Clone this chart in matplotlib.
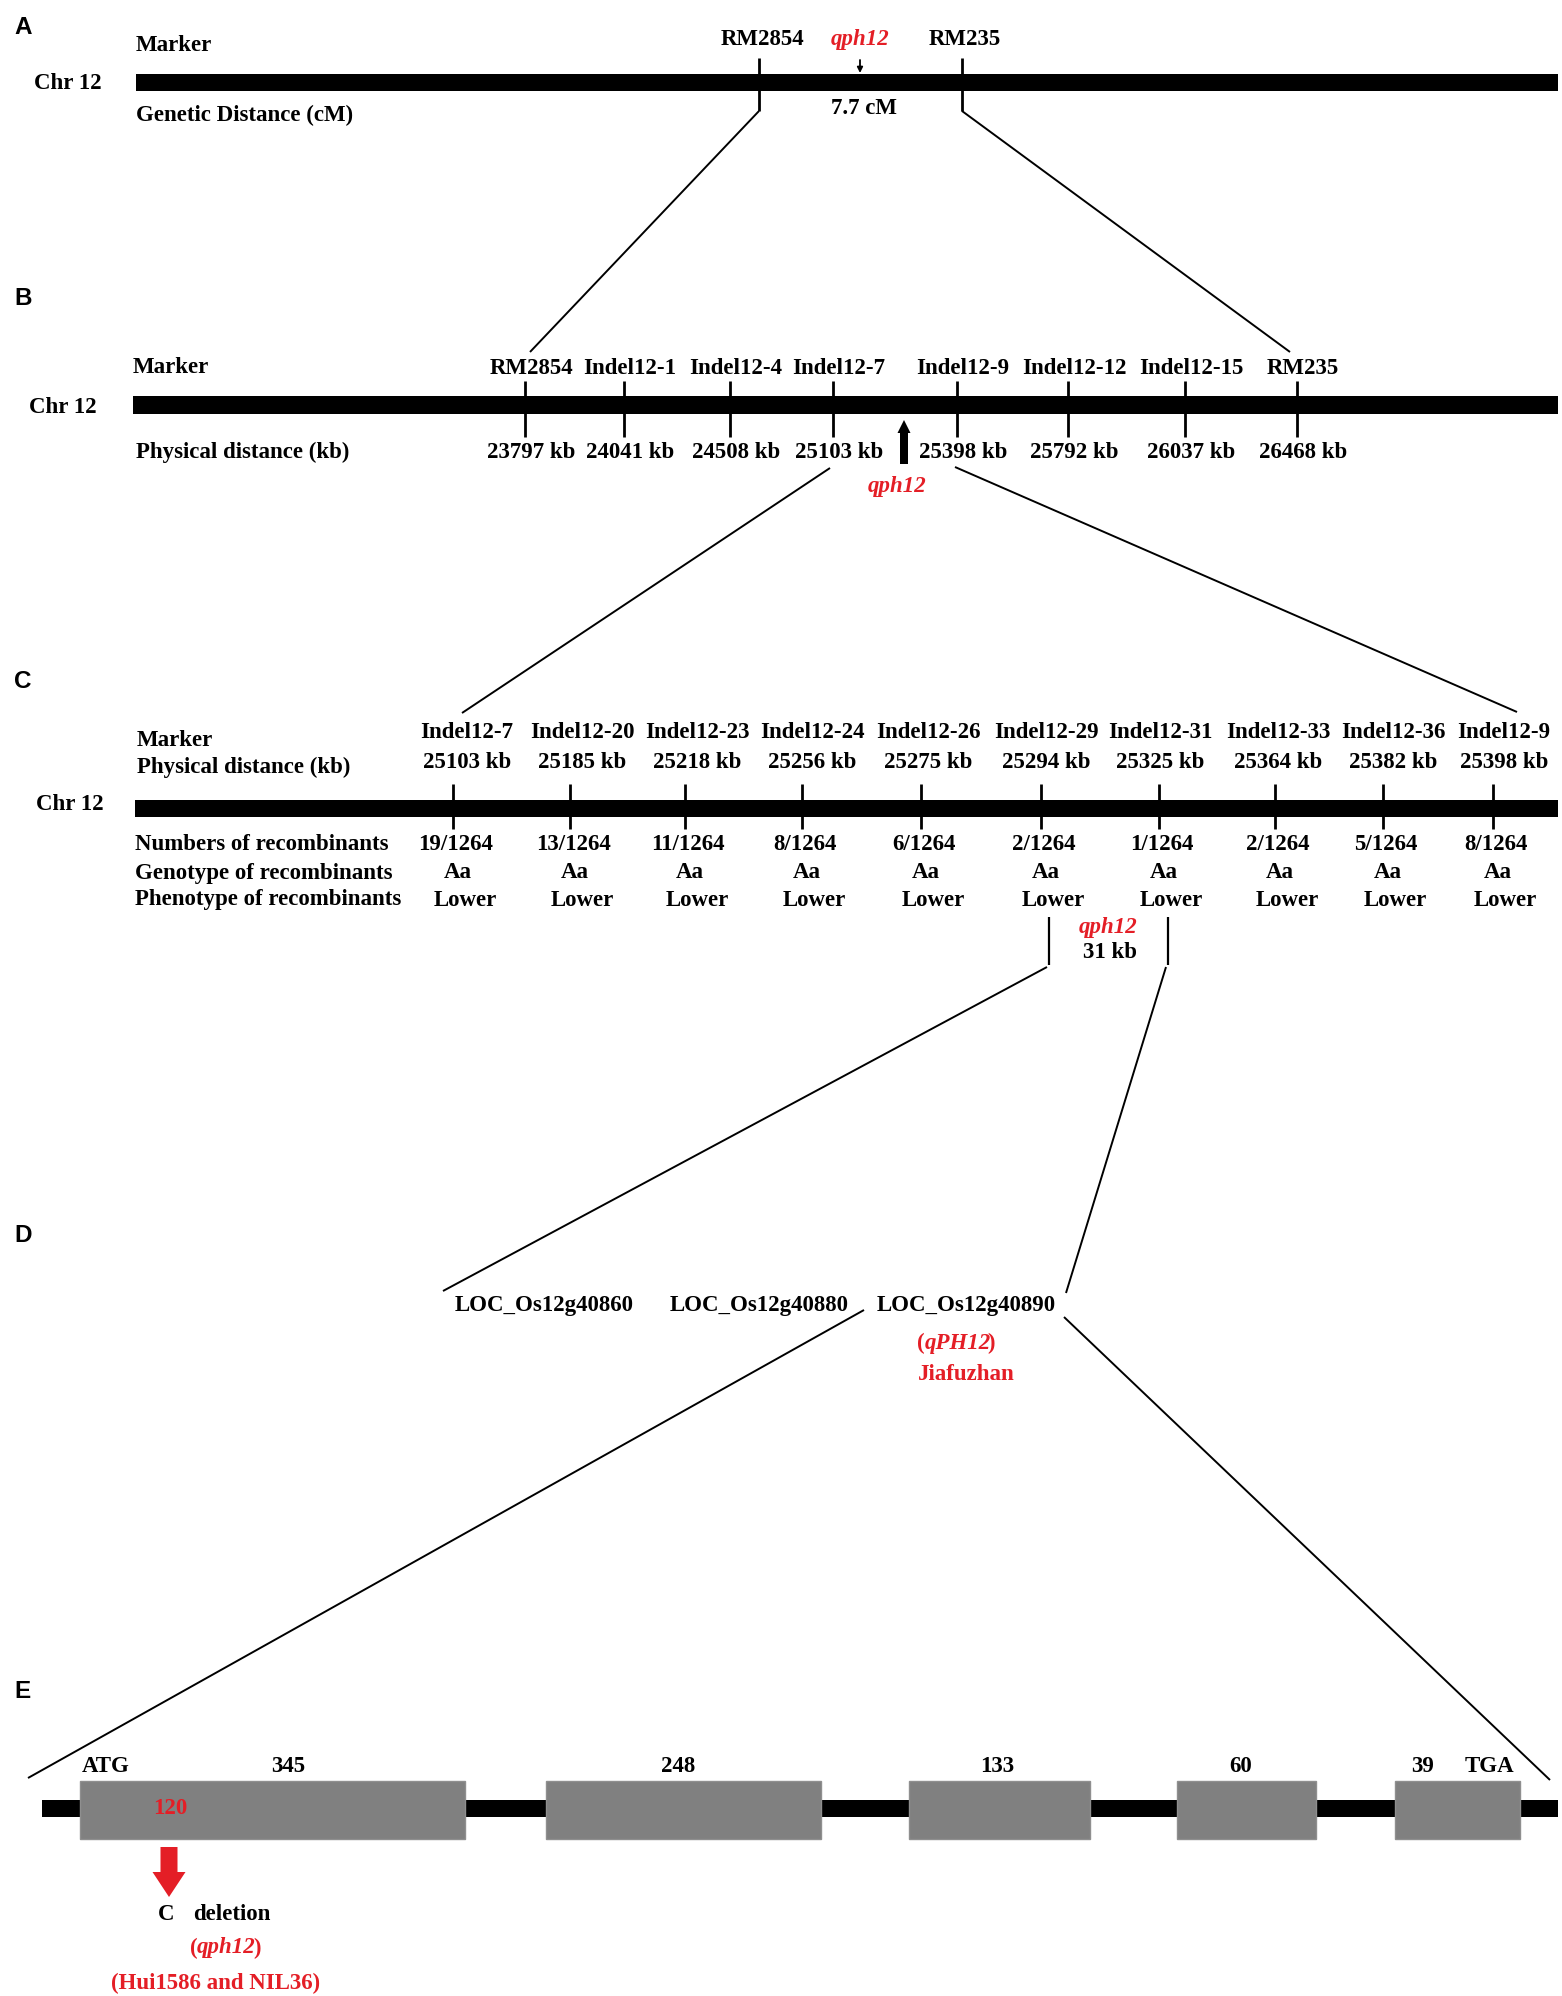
import matplotlib
matplotlib.use("Agg")
import matplotlib.pyplot as plt
from matplotlib.patches import FancyArrow

plt.rcParams['font.family'] = ['Liberation Serif', 'DejaVu Serif']

# ---------------- data ----------------
panel_letters = ['A', 'B', 'C', 'D', 'E']
chrom_name = 'Chr 12'
a_markers = ['RM2854', 'RM235']
a_qtl = 'qph12'
a_distance = '7.7 cM'

b_markers = ['RM2854', 'Indel12-1', 'Indel12-4', 'Indel12-7', 'Indel12-9',
             'Indel12-12', 'Indel12-15', 'RM235']
b_kb = [23797, 24041, 24508, 25103, 25398, 25792, 26037, 26468]

c_markers = ['Indel12-7', 'Indel12-20', 'Indel12-23', 'Indel12-24', 'Indel12-26',
             'Indel12-29', 'Indel12-31', 'Indel12-33', 'Indel12-36', 'Indel12-9']
c_kb = [25103, 25185, 25218, 25256, 25275, 25294, 25325, 25364, 25382, 25398]
c_recombinants = [19, 13, 11, 8, 6, 2, 1, 2, 5, 8]
c_total = 1264
c_genotype = ['Aa'] * 10
c_phenotype = ['Lower'] * 10
c_interval = '31 kb'

d_genes = ['LOC_Os12g40860', 'LOC_Os12g40880', 'LOC_Os12g40890']
d_candidate = 'qPH12'
d_variety = 'Jiafuzhan'

e_exon_lengths = [345, 248, 133, 60, 39]
e_mutation_pos = 120
e_mut_lines = ['(Hui1586 and NIL36)']

# ---------------- layout (pixels) ----------------
W, H = 1562, 1996
RED = '#E41E26'
FS = 16.5

a_tick_x = [759, 962]
b_tick_x = [525, 624, 730, 833, 957, 1068, 1185, 1297]
c_tick_x = [453, 570, 685, 802, 921, 1041, 1159, 1275, 1383, 1493]
c_label_dx = [14, 12, 12, 10, 7, 5, 1, 3, 10, 11]
exon_left = [80, 546, 909, 1177, 1395]
exon_right = [465, 821, 1090, 1316, 1520]
exon_label_x = [288, 678, 997, 1241, 1423]

fig = plt.figure(figsize=(W / 100, H / 100), dpi=100)
ax = fig.add_axes([0, 0, 1, 1])
ax.set_xlim(0, W)
ax.set_ylim(H, 0)
ax.axis('off')
renderer = fig.canvas.get_renderer()

def txt(x, y, s, color='black', ha='center', weight='bold', style='normal', size=FS):
    return ax.text(x, y, s, ha=ha, va='center', color=color, fontsize=size,
                   fontweight=weight, fontstyle=style)

def seg_txt(xc, y, segments, color):
    """Draw consecutive segments (text, style, kern) centred on xc."""
    objs = []
    widths = []
    for s, st, kern in segments:
        t = txt(0, y, s, color=color, ha='left', style=st)
        w = t.get_window_extent(renderer=renderer).width + kern
        objs.append(t)
        widths.append(w)
    x = xc - sum(widths) / 2
    for t, w in zip(objs, widths):
        t.set_x(x)
        x += w

def chrom_bar(x0, x1, yc, h=17):
    ax.barh([yc], [x1 - x0], left=[x0], height=h, color='black', edgecolor='none')

def line(xs, ys, lw=1.4):
    ax.plot(xs, ys, color='black', lw=lw, solid_capstyle='butt')

# panel letters
for letter, y in zip(panel_letters, [27, 298, 682, 1235, 1692]):
    ax.text(14, y, letter, ha='left', va='center', fontsize=17.5,
            fontweight='bold', family='Liberation Sans')

# ---------------- Panel A ----------------
txt(136, 45, 'Marker', ha='left')
txt(68, 83, chrom_name)
txt(136, 115, 'Genetic Distance (cM)', ha='left')
chrom_bar(136, 1558, 82.5)
for x, m in zip(a_tick_x, a_markers):
    txt(x + 3, 39, m)
    line([x, x], [58, 111], lw=2)
txt(860, 39, a_qtl, color=RED, style='italic')
ax.annotate('', xy=(860, 73), xytext=(860, 60),
            arrowprops=dict(arrowstyle='-|>', color='black', lw=1.3,
                            mutation_scale=8, shrinkA=0, shrinkB=0))
txt(864, 108, a_distance)
line([759, 530], [111, 352])
line([962, 1290], [111, 352])

# ---------------- Panel B ----------------
txt(133, 367, 'Marker', ha='left')
txt(63, 407, chrom_name)
txt(136, 452, 'Physical distance (kb)', ha='left')
chrom_bar(133, 1558, 404.5, h=18)
for x, m, kb in zip(b_tick_x, b_markers, b_kb):
    txt(x + 6, 368, m)
    line([x, x], [381, 437], lw=2)
    txt(x + 6, 452, f'{kb} kb')
ax.add_patch(FancyArrow(904, 464, 0, -44, width=8, head_width=13,
                        head_length=13, length_includes_head=True,
                        color='black', lw=0))
txt(897, 486, a_qtl, color=RED, style='italic')
line([830, 462], [468, 713])
line([955, 1517], [467, 712])

# ---------------- Panel C ----------------
txt(137, 740, 'Marker', ha='left')
txt(137, 767, 'Physical distance (kb)', ha='left')
txt(70, 805, chrom_name)
chrom_bar(135, 1558, 808.5)
txt(135, 845, 'Numbers of recombinants', ha='left')
txt(135, 873, 'Genotype of recombinants', ha='left')
txt(135, 900, 'Phenotype of recombinants', ha='left')
for x, dx, m, kb, n, g, p in zip(c_tick_x, c_label_dx, c_markers, c_kb,
                                 c_recombinants, c_genotype, c_phenotype):
    txt(x + dx, 732, m)
    txt(x + dx, 763, f'{kb} kb')
    line([x, x], [784, 829], lw=2)
    txt(x + 3, 845, f'{n}/{c_total}')
    txt(x + 5, 873, g)
    txt(x + 12, 900, p)
line([1049, 1049], [917, 965], lw=1.6)
line([1168, 1168], [917, 965], lw=1.6)
txt(1108, 928, a_qtl, color=RED, style='italic')
txt(1110, 953, c_interval)
line([1047, 443], [967, 1291])
line([1166, 1066], [967, 1293])

# ---------------- Panel D ----------------
for x, g in zip([544, 759, 966], d_genes):
    txt(x, 1306, g)
seg_txt(956, 1343, [('(', 'normal', 0), (d_candidate, 'italic', -3),
                    (')', 'normal', 0)], RED)
txt(966, 1375, d_variety, color=RED)
line([864, 28], [1310, 1778])
line([1064, 1550], [1317, 1780])

# ---------------- Panel E ----------------
chrom_bar(42, 1558, 1808.5)
for x0, x1, L, lx in zip(exon_left, exon_right, e_exon_lengths, exon_label_x):
    ax.barh([1810], [x1 - x0], left=[x0], height=58, color='#808080',
            edgecolor='#8f8f8f', lw=1)
    txt(lx, 1767, str(L))
txt(106, 1767, 'ATG')
txt(1489, 1767, 'TGA')
txt(170, 1808, str(e_mutation_pos), color=RED)
ax.add_patch(FancyArrow(169, 1847, 0, 50, width=17, head_width=33,
                        head_length=25, length_includes_head=True,
                        color=RED, lw=0))
txt(166, 1915, 'C')
txt(232, 1915, 'deletion')
seg_txt(225, 1948, [('(', 'normal', 0), (a_qtl, 'italic', -3),
                    (')', 'normal', 0)], RED)
txt(216, 1983, e_mut_lines[0], color=RED)

fig.savefig('out.png', dpi=100)
